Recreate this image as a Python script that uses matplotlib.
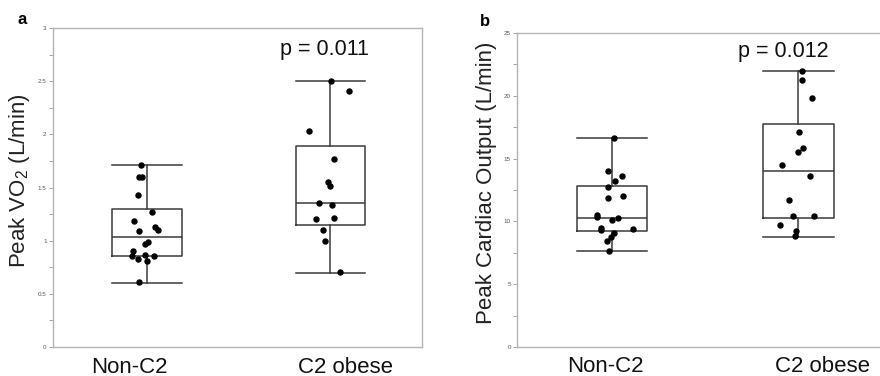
import matplotlib
matplotlib.use("Agg")
import matplotlib.pyplot as plt
from matplotlib.ticker import MultipleLocator

plt.rcParams['font.family'] = ['Liberation Sans', 'DejaVu Sans']
plt.rcParams['mathtext.default'] = 'regular'

groups = ['Non-C2', 'C2 obese']

# panel a: peak VO2 (L/min)
vo2_non = [1.71, 1.60, 1.60, 1.426, 1.27, 1.19, 1.093, 1.131, 1.103, 0.986,
           0.974, 0.905, 0.855, 0.864, 0.829, 0.855, 0.807, 0.609]
vo2_non_dx = [-0.029, -0.042, -0.024, -0.045, 0.031, -0.067, -0.040, 0.045, 0.062, 0.009,
              -0.009, -0.076, -0.078, -0.011, -0.045, 0.042, 0.0, -0.042]
vo2_c2 = [2.504, 2.41, 2.03, 1.766, 1.555, 1.517, 1.351, 1.338, 1.203, 1.213,
          1.10, 0.996, 0.704]
vo2_c2_dx = [0.005, 0.103, -0.114, 0.018, -0.014, 0.0, -0.063, 0.007, -0.078, 0.018,
             -0.042, -0.031, 0.054]
# whislo, q1, median, q3, whishi
vo2_stats = [[0.603, 0.855, 1.037, 1.30, 1.712],
             [0.70, 1.15, 1.351, 1.894, 2.504]]

# panel b: peak cardiac output (L/min)
co_non = [16.65, 14.0, 13.65, 13.2, 12.75, 12.06, 11.85, 10.5, 10.35, 10.12,
          10.3, 9.51, 9.3, 9.38, 9.06, 8.76, 8.45, 7.62]
co_non_dx = [0.013, -0.023, 0.055, 0.018, -0.020, 0.057, -0.023, -0.080, -0.080, -0.002,
             0.032, -0.061, -0.057, 0.113, 0.009, -0.007, -0.027, -0.018]
co_c2 = [22.02, 21.25, 19.81, 17.13, 15.83, 15.54, 14.53, 13.6, 11.71, 10.41,
         10.41, 9.69, 9.24, 8.82]
co_c2_dx = [0.020, 0.020, 0.075, 0.005, 0.023, 0.0, -0.089, 0.063, -0.048, -0.030,
            0.082, -0.100, -0.011, -0.018]
co_stats = [[7.62, 9.24, 10.28, 12.83, 16.65],
            [8.76, 10.25, 14.02, 17.77, 22.02]]

fig = plt.figure(figsize=(8.8, 3.76), dpi=100)
ax1 = fig.add_axes([0.060, 0.077, 0.420, 0.848])
ax2 = fig.add_axes([0.5875, 0.077, 0.4257, 0.835])

line_col = '#3a3a3a'
spine_col = '#b4b4b4'


def draw_panel(ax, stats, pts, dxs, ymax, major, ylabel, ptext, pxy, label_x):
    bstats = []
    for s in stats:
        bstats.append(dict(whislo=s[0], q1=s[1], med=s[2], q3=s[3], whishi=s[4], fliers=[]))
    ax.bxp(bstats, positions=[1, 2], widths=0.38, showfliers=False,
           boxprops=dict(color=line_col, linewidth=1.1),
           whiskerprops=dict(color=line_col, linewidth=1.1),
           capprops=dict(color=line_col, linewidth=1.1),
           medianprops=dict(color=line_col, linewidth=1.1),
           capwidths=0.38, manage_ticks=False)
    for i, (vals, dx) in enumerate(zip(pts, dxs)):
        ax.plot([i + 1 + d for d in dx], vals, 'o', color='black',
                markersize=3.6, zorder=3)
    ax.set_xlim(0.49, 2.5)
    ax.set_ylim(0, ymax)
    ax.yaxis.set_major_locator(MultipleLocator(major))
    ax.yaxis.set_minor_locator(MultipleLocator(major / 2))
    ax.set_xticks([])
    ax.tick_params(axis='y', which='both', direction='out', length=3,
                   width=0.6, color='#999999', labelsize=4.5, labelcolor='#555555', pad=1.5)
    ax.yaxis.set_major_formatter(plt.FuncFormatter(lambda v, p: f'{v:g}'))
    for sp in ax.spines.values():
        sp.set_color(spine_col)
        sp.set_linewidth(1.0)
    ax.set_ylabel(ylabel, fontsize=16, color='#222222')
    ax.yaxis.set_label_coords(label_x, 0.523)
    ax.text(pxy[0], pxy[1], ptext, fontsize=15.5, ha='center', va='center', color='#111111')


draw_panel(ax1, vo2_stats, [vo2_non, vo2_c2], [vo2_non_dx, vo2_c2_dx], 3, 0.5,
           'Peak VO$_2$ (L/min)', 'p = 0.011', (1.966, 2.80), -0.055)
draw_panel(ax2, co_stats, [co_non, co_c2], [co_non_dx, co_c2_dx], 25, 5,
           'Peak Cardiac Output (L/min)', 'p = 0.012', (1.92, 23.5), -0.053)

# group labels below each panel
for ax, xs in [(ax1, [0.907, 2.082]), (ax2, [0.966, 2.13])]:
    for x, g in zip(xs, groups):
        ax.text(x, -0.063, g, transform=ax.get_xaxis_transform(), fontsize=16,
                ha='center', va='center', color='#111111')

fig.text(17 / 880, 1 - 20 / 376, 'a', fontsize=12, fontweight='bold', va='center', ha='left')
fig.text(480 / 880, 1 - 22 / 376, 'b', fontsize=12, fontweight='bold', va='center', ha='left')

fig.savefig('out.png', dpi=100)
